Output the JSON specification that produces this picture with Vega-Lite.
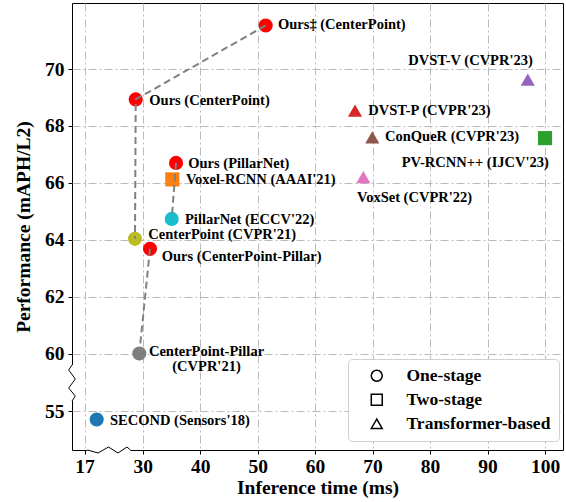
{
  "$schema": "https://vega.github.io/schema/vega-lite/v6.json",
  "autosize": "none",
  "width": 491,
  "height": 447,
  "padding": {"left": 72, "top": 3, "right": 3, "bottom": 52},
  "background": "white",
  "config": {
    "view": {"stroke": "black", "strokeWidth": 1},
    "axis": {
      "domain": false,
      "grid": true,
      "gridColor": "#bbbbbb",
      "gridDash": [8, 3, 2, 3],
      "gridWidth": 1,
      "tickColor": "black",
      "tickSize": 4,
      "labelFont": "Liberation Serif",
      "labelFontSize": 19.5,
      "labelFontWeight": "bold",
      "labelColor": "black",
      "titleFont": "Liberation Serif",
      "titleFontSize": 19.5,
      "titleFontWeight": "bold",
      "titleColor": "black"
    },
    "legend": {
      "title": null,
      "orient": "none",
      "legendX": 276,
      "legendY": 356,
      "fillColor": "white",
      "strokeColor": "#d0d0d0",
      "cornerRadius": 4,
      "padding": 8,
      "symbolOffset": 12,
      "labelOffset": 21,
      "symbolSize": 120,
      "labelFont": "Liberation Serif",
      "labelFontSize": 17.5,
      "labelFontWeight": "bold",
      "labelColor": "black",
      "rowPadding": 5,
      "symbolStrokeColor": "black",
      "symbolStrokeWidth": 1.5,
      "symbolFillColor": "transparent"
    }
  },
  "datasets": {
    "points": [
      {"name": "Ours‡ (CenterPoint)", "type": "One-stage", "x": 51.4, "y": 71.53, "label": "Ours‡ (CenterPoint)", "lx": 53.54, "ly": 71.53, "chain": "A", "ord": 1},
      {"name": "Ours (CenterPoint)", "type": "One-stage", "x": 28.44, "y": 68.93, "label": "Ours (CenterPoint)", "lx": 31.15, "ly": 68.89, "chain": "A", "ord": 2},
      {"name": "CenterPoint (CVPR'21)", "type": "One-stage", "x": 28.28, "y": 64.03, "label": "CenterPoint (CVPR'21)", "lx": 30.98, "ly": 64.15, "chain": "A", "ord": 3},
      {"name": "Ours (PillarNet)", "type": "One-stage", "x": 35.8, "y": 66.7, "label": "Ours (PillarNet)", "lx": 37.93, "ly": 66.67, "chain": "B", "ord": 1},
      {"name": "PillarNet (ECCV'22)", "type": "One-stage", "x": 35.05, "y": 64.73, "label": "PillarNet (ECCV'22)", "lx": 37.36, "ly": 64.7, "chain": "B", "ord": 2},
      {"name": "Ours (CenterPoint-Pillar)", "type": "One-stage", "x": 31.27, "y": 63.68, "label": "Ours (CenterPoint-Pillar)", "lx": 33.31, "ly": 63.38, "chain": "C", "ord": 1},
      {"name": "CenterPoint-Pillar (CVPR'21)", "type": "One-stage", "x": 29.24, "y": 60.0, "label": "CenterPoint-Pillar\n(CVPR'21)", "lx": 41.1, "ly": 60.06, "chain": "C", "ord": 2},
      {"name": "Voxel-RCNN (AAAI'21)", "type": "Two-stage", "x": 35.15, "y": 66.12, "label": "Voxel-RCNN (AAAI'21)", "lx": 37.53, "ly": 66.11, "chain": null, "ord": null},
      {"name": "SECOND (Sensors'18)", "type": "One-stage", "x": 19.72, "y": 54.26, "label": "SECOND (Sensors'18)", "lx": 22.7, "ly": 54.13, "chain": null, "ord": null},
      {"name": "DVST-V (CVPR'23)", "type": "Transformer-based", "x": 97.0, "y": 69.63, "label": "DVST-V (CVPR'23)", "lx": 76.22, "ly": 70.27, "chain": null, "ord": null},
      {"name": "DVST-P (CVPR'23)", "type": "Transformer-based", "x": 66.94, "y": 68.54, "label": "DVST-P (CVPR'23)", "lx": 69.26, "ly": 68.54, "chain": null, "ord": null},
      {"name": "ConQueR (CVPR'23)", "type": "Transformer-based", "x": 69.95, "y": 67.6, "label": "ConQueR (CVPR'23)", "lx": 72.16, "ly": 67.6, "chain": null, "ord": null},
      {"name": "PV-RCNN++ (IJCV'23)", "type": "Two-stage", "x": 100.0, "y": 67.57, "label": "PV-RCNN++ (IJCV'23)", "lx": 75.07, "ly": 66.7, "chain": null, "ord": null},
      {"name": "VoxSet (CVPR'22)", "type": "Transformer-based", "x": 68.39, "y": 66.2, "label": "VoxSet (CVPR'22)", "lx": 67.29, "ly": 65.48, "chain": null, "ord": null}
    ],
    "covers": [
      {"x": 14.21, "x2": 14.21, "y": 55.87, "y2": 59.0},
      {"x": 17.67, "x2": 27.27, "y": 51.61, "y2": 51.61}
    ],
    "zigzag": [
      {"axis": "y", "ord": 1, "x": 14.21, "y": 59.0},
      {"axis": "y", "ord": 2, "x": 13.47, "y": 58.57},
      {"axis": "y", "ord": 3, "x": 14.95, "y": 57.78},
      {"axis": "y", "ord": 4, "x": 13.47, "y": 57.0},
      {"axis": "y", "ord": 5, "x": 14.95, "y": 56.3},
      {"axis": "y", "ord": 6, "x": 14.21, "y": 55.87},
      {"axis": "x", "ord": 1, "x": 17.67, "y": 51.61},
      {"axis": "x", "ord": 2, "x": 20.02, "y": 51.35},
      {"axis": "x", "ord": 3, "x": 22.36, "y": 51.87},
      {"axis": "x", "ord": 4, "x": 24.48, "y": 51.35},
      {"axis": "x", "ord": 5, "x": 26.49, "y": 51.87},
      {"axis": "x", "ord": 6, "x": 27.27, "y": 51.61}
    ]
  },
  "layer": [
    {
      "data": {"name": "points"},
      "mark": {"type": "point", "filled": true, "opacity": 1, "size": 200, "strokeWidth": 0},
      "encoding": {
        "x": {
          "field": "x", "type": "quantitative",
          "scale": {"domain": [14.21, 17, 30, 103.13], "range": [0, 12.5, 70.7, 491], "nice": false, "zero": false},
          "axis": {"values": [17, 30, 40, 50, 60, 70, 80, 90, 100], "title": "Inference time (ms)", "labelPadding": 3, "titlePadding": 3}
        },
        "y": {
          "field": "y", "type": "quantitative",
          "scale": {"domain": [51.61, 55, 60, 72.32], "range": [447, 408, 350.5, 0], "nice": false, "zero": false},
          "axis": {"values": [55, 60, 62, 64, 66, 68, 70], "title": "Performance (mAPH/L2)", "labelPadding": 4, "titlePadding": 11}
        },
        "shape": {
          "field": "type", "type": "nominal",
          "scale": {"domain": ["One-stage", "Two-stage", "Transformer-based"], "range": ["circle", "square", "triangle-up"]},
          "legend": {
            "encode": {"symbols": {"update": {"fill": {"value": "transparent"}, "stroke": {"value": "black"}, "strokeWidth": {"value": 1.5}, "opacity": {"value": 1}}}}
          }
        },
        "color": {
          "field": "name", "type": "nominal", "legend": null,
          "scale": {
            "domain": ["Ours‡ (CenterPoint)", "Ours (CenterPoint)", "CenterPoint (CVPR'21)", "Ours (PillarNet)", "PillarNet (ECCV'22)", "Ours (CenterPoint-Pillar)", "CenterPoint-Pillar (CVPR'21)", "Voxel-RCNN (AAAI'21)", "SECOND (Sensors'18)", "DVST-V (CVPR'23)", "DVST-P (CVPR'23)", "ConQueR (CVPR'23)", "PV-RCNN++ (IJCV'23)", "VoxSet (CVPR'22)"],
            "range": ["#ff0000", "#ff0000", "#bcbd22", "#ff0000", "#17becf", "#ff0000", "#7f7f7f", "#ff7f0e", "#1f77b4", "#9467bd", "#d62728", "#8c564b", "#2ca02c", "#e377c2"]
          }
        }
      }
    },
    {
      "data": {"name": "points"},
      "transform": [{"filter": "datum.chain != null"}],
      "mark": {"type": "line", "color": "#808080", "strokeWidth": 2, "strokeDash": [7, 4]},
      "encoding": {
        "x": {"field": "x", "type": "quantitative", "axis": {"values": [17, 30, 40, 50, 60, 70, 80, 90, 100], "title": "Inference time (ms)", "labelPadding": 3, "titlePadding": 3}},
        "y": {"field": "y", "type": "quantitative", "axis": {"values": [55, 60, 62, 64, 66, 68, 70], "title": "Performance (mAPH/L2)", "labelPadding": 4, "titlePadding": 11}},
        "detail": {"field": "chain", "type": "nominal"},
        "order": {"field": "ord", "type": "quantitative"}
      }
    },
    {
      "data": {"name": "covers"},
      "mark": {"type": "rule", "color": "white", "strokeWidth": 3},
      "encoding": {
        "x": {"field": "x", "type": "quantitative", "axis": {"values": [17, 30, 40, 50, 60, 70, 80, 90, 100], "title": "Inference time (ms)", "labelPadding": 3, "titlePadding": 3}},
        "x2": {"field": "x2"},
        "y": {"field": "y", "type": "quantitative", "axis": {"values": [55, 60, 62, 64, 66, 68, 70], "title": "Performance (mAPH/L2)", "labelPadding": 4, "titlePadding": 11}},
        "y2": {"field": "y2"}
      }
    },
    {
      "data": {"name": "zigzag"},
      "mark": {"type": "line", "color": "black", "strokeWidth": 1},
      "encoding": {
        "x": {"field": "x", "type": "quantitative", "axis": {"values": [17, 30, 40, 50, 60, 70, 80, 90, 100], "title": "Inference time (ms)", "labelPadding": 3, "titlePadding": 3}},
        "y": {"field": "y", "type": "quantitative", "axis": {"values": [55, 60, 62, 64, 66, 68, 70], "title": "Performance (mAPH/L2)", "labelPadding": 4, "titlePadding": 11}},
        "detail": {"field": "axis", "type": "nominal"},
        "order": {"field": "ord", "type": "quantitative"}
      }
    },
    {
      "data": {"name": "points"},
      "transform": [{"filter": "datum.name != 'CenterPoint-Pillar (CVPR\\'21)'"}],
      "mark": {"type": "text", "align": "left", "baseline": "middle", "font": "Liberation Serif", "fontSize": 14.5, "fontWeight": "bold", "color": "black"},
      "encoding": {
        "x": {"field": "lx", "type": "quantitative", "axis": {"values": [17, 30, 40, 50, 60, 70, 80, 90, 100], "title": "Inference time (ms)", "labelPadding": 3, "titlePadding": 3}},
        "y": {"field": "ly", "type": "quantitative", "axis": {"values": [55, 60, 62, 64, 66, 68, 70], "title": "Performance (mAPH/L2)", "labelPadding": 4, "titlePadding": 11}},
        "text": {"field": "label", "type": "nominal"}
      }
    },
    {
      "data": {"name": "points"},
      "transform": [{"filter": "datum.name == 'CenterPoint-Pillar (CVPR\\'21)'"}],
      "mark": {"type": "text", "align": "center", "baseline": "middle", "lineBreak": "\n", "lineHeight": 15.5, "font": "Liberation Serif", "fontSize": 14.5, "fontWeight": "bold", "color": "black"},
      "encoding": {
        "x": {"field": "lx", "type": "quantitative", "axis": {"values": [17, 30, 40, 50, 60, 70, 80, 90, 100], "title": "Inference time (ms)", "labelPadding": 3, "titlePadding": 3}},
        "y": {"field": "ly", "type": "quantitative", "axis": {"values": [55, 60, 62, 64, 66, 68, 70], "title": "Performance (mAPH/L2)", "labelPadding": 4, "titlePadding": 11}},
        "text": {"field": "label", "type": "nominal"}
      }
    }
  ]
}
